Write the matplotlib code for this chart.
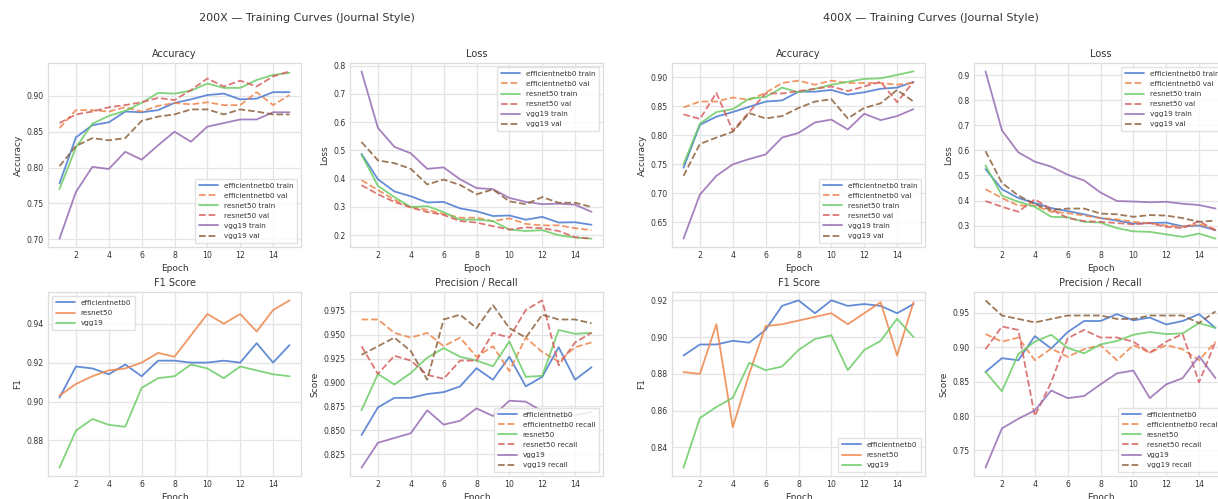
import matplotlib
matplotlib.use('Agg')
from matplotlib import pyplot as plt
from matplotlib.ticker import MultipleLocator
import seaborn as sns

sns.set_theme(style='whitegrid', palette='muted')
plt.rcParams['font.family'] = ['DejaVu Sans']

epochs = list(range(1, 16))
models = ['efficientnetb0', 'resnet50', 'vgg19']

# ---- 200X ----
acc_train_200 = {
    'efficientnetb0': [0.778, 0.842, 0.859, 0.863, 0.878, 0.877, 0.880, 0.890, 0.895, 0.901, 0.903, 0.895, 0.896, 0.905, 0.905],
    'resnet50':       [0.770, 0.828, 0.861, 0.872, 0.879, 0.890, 0.904, 0.903, 0.907, 0.917, 0.911, 0.911, 0.922, 0.929, 0.932],
    'vgg19':          [0.701, 0.766, 0.801, 0.798, 0.822, 0.811, 0.831, 0.850, 0.836, 0.857, 0.862, 0.867, 0.867, 0.877, 0.877],
}
acc_val_200 = {
    'efficientnetb0': [0.855, 0.880, 0.880, 0.878, 0.884, 0.878, 0.886, 0.890, 0.888, 0.891, 0.887, 0.887, 0.905, 0.887, 0.901],
    'resnet50':       [0.862, 0.874, 0.878, 0.884, 0.887, 0.891, 0.897, 0.894, 0.908, 0.924, 0.913, 0.921, 0.913, 0.927, 0.934],
    'vgg19':          [0.802, 0.830, 0.841, 0.838, 0.841, 0.865, 0.871, 0.874, 0.881, 0.881, 0.874, 0.881, 0.878, 0.874, 0.874],
}
loss_train_200 = {
    'efficientnetb0': [0.488, 0.398, 0.355, 0.338, 0.316, 0.318, 0.295, 0.285, 0.268, 0.270, 0.255, 0.265, 0.245, 0.246, 0.237],
    'resnet50':       [0.485, 0.375, 0.335, 0.300, 0.303, 0.282, 0.255, 0.255, 0.250, 0.220, 0.215, 0.218, 0.200, 0.192, 0.188],
    'vgg19':          [0.780, 0.580, 0.513, 0.490, 0.435, 0.440, 0.398, 0.367, 0.363, 0.332, 0.318, 0.310, 0.312, 0.308, 0.283],
}
loss_val_200 = {
    'efficientnetb0': [0.395, 0.360, 0.325, 0.300, 0.290, 0.275, 0.262, 0.262, 0.250, 0.260, 0.240, 0.235, 0.235, 0.225, 0.218],
    'resnet50':       [0.377, 0.345, 0.318, 0.298, 0.282, 0.272, 0.250, 0.245, 0.232, 0.220, 0.228, 0.225, 0.215, 0.193, 0.188],
    'vgg19':          [0.530, 0.465, 0.455, 0.435, 0.380, 0.397, 0.378, 0.345, 0.362, 0.320, 0.310, 0.335, 0.315, 0.315, 0.300],
}
f1_200 = {
    'efficientnetb0': [0.902, 0.918, 0.917, 0.914, 0.919, 0.913, 0.921, 0.921, 0.920, 0.920, 0.921, 0.920, 0.930, 0.920, 0.929],
    'resnet50':       [0.903, 0.909, 0.913, 0.916, 0.917, 0.920, 0.925, 0.923, 0.934, 0.945, 0.940, 0.945, 0.936, 0.947, 0.952],
    'vgg19':          [0.866, 0.885, 0.891, 0.888, 0.887, 0.907, 0.912, 0.913, 0.919, 0.917, 0.912, 0.918, 0.916, 0.914, 0.913],
}
prec_200 = {
    'efficientnetb0': [0.845, 0.874, 0.884, 0.884, 0.888, 0.890, 0.896, 0.915, 0.903, 0.927, 0.896, 0.906, 0.937, 0.903, 0.916],
    'resnet50':       [0.871, 0.909, 0.898, 0.910, 0.926, 0.936, 0.927, 0.923, 0.917, 0.943, 0.906, 0.907, 0.955, 0.951, 0.952],
    'vgg19':          [0.811, 0.837, 0.842, 0.847, 0.871, 0.856, 0.860, 0.873, 0.865, 0.881, 0.880, 0.870, 0.864, 0.866, 0.869],
}
rec_200 = {
    'efficientnetb0': [0.966, 0.966, 0.952, 0.947, 0.952, 0.938, 0.947, 0.927, 0.938, 0.912, 0.947, 0.932, 0.922, 0.937, 0.942],
    'resnet50':       [0.938, 0.909, 0.928, 0.923, 0.908, 0.904, 0.923, 0.923, 0.952, 0.947, 0.976, 0.986, 0.918, 0.942, 0.952],
    'vgg19':          [0.929, 0.938, 0.947, 0.933, 0.903, 0.966, 0.971, 0.957, 0.981, 0.957, 0.947, 0.971, 0.966, 0.966, 0.962],
}

# ---- 400X ----
acc_train_400 = {
    'efficientnetb0': [0.744, 0.818, 0.832, 0.840, 0.849, 0.858, 0.860, 0.875, 0.875, 0.878, 0.870, 0.874, 0.880, 0.882, 0.892],
    'resnet50':       [0.750, 0.820, 0.840, 0.845, 0.863, 0.866, 0.882, 0.874, 0.880, 0.887, 0.892, 0.897, 0.898, 0.904, 0.910],
    'vgg19':          [0.622, 0.698, 0.730, 0.750, 0.759, 0.767, 0.796, 0.804, 0.822, 0.827, 0.810, 0.837, 0.826, 0.833, 0.845],
}
acc_val_400 = {
    'efficientnetb0': [0.848, 0.858, 0.858, 0.865, 0.861, 0.873, 0.890, 0.894, 0.887, 0.894, 0.890, 0.890, 0.890, 0.887, 0.890],
    'resnet50':       [0.836, 0.828, 0.873, 0.808, 0.840, 0.872, 0.872, 0.876, 0.880, 0.884, 0.876, 0.884, 0.892, 0.857, 0.892],
    'vgg19':          [0.730, 0.785, 0.796, 0.806, 0.838, 0.829, 0.833, 0.847, 0.858, 0.862, 0.829, 0.847, 0.855, 0.878, 0.858],
}
loss_train_400 = {
    'efficientnetb0': [0.525, 0.445, 0.410, 0.390, 0.370, 0.358, 0.345, 0.330, 0.320, 0.308, 0.310, 0.312, 0.297, 0.300, 0.282],
    'resnet50':       [0.540, 0.420, 0.395, 0.375, 0.335, 0.333, 0.315, 0.312, 0.290, 0.277, 0.275, 0.265, 0.255, 0.268, 0.248],
    'vgg19':          [0.915, 0.680, 0.592, 0.555, 0.535, 0.503, 0.480, 0.432, 0.398, 0.396, 0.393, 0.395, 0.387, 0.382, 0.368],
}
loss_val_400 = {
    'efficientnetb0': [0.445, 0.410, 0.380, 0.380, 0.355, 0.350, 0.340, 0.330, 0.325, 0.315, 0.310, 0.300, 0.295, 0.305, 0.285],
    'resnet50':       [0.398, 0.375, 0.355, 0.405, 0.365, 0.330, 0.318, 0.315, 0.310, 0.305, 0.310, 0.295, 0.290, 0.318, 0.280],
    'vgg19':          [0.597, 0.470, 0.420, 0.385, 0.362, 0.368, 0.368, 0.348, 0.345, 0.335, 0.342, 0.340, 0.330, 0.315, 0.320],
}
f1_400 = {
    'efficientnetb0': [0.890, 0.896, 0.896, 0.898, 0.897, 0.904, 0.917, 0.920, 0.913, 0.920, 0.917, 0.918, 0.917, 0.913, 0.918],
    'resnet50':       [0.881, 0.880, 0.907, 0.851, 0.880, 0.906, 0.907, 0.909, 0.911, 0.913, 0.907, 0.913, 0.919, 0.890, 0.919],
    'vgg19':          [0.829, 0.856, 0.862, 0.867, 0.886, 0.882, 0.884, 0.893, 0.899, 0.901, 0.882, 0.893, 0.898, 0.910, 0.900],
}
prec_400 = {
    'efficientnetb0': [0.864, 0.884, 0.881, 0.916, 0.898, 0.922, 0.938, 0.938, 0.948, 0.939, 0.943, 0.933, 0.938, 0.948, 0.928],
    'resnet50':       [0.864, 0.836, 0.890, 0.908, 0.918, 0.899, 0.891, 0.904, 0.909, 0.918, 0.922, 0.919, 0.920, 0.935, 0.928],
    'vgg19':          [0.725, 0.782, 0.796, 0.808, 0.837, 0.826, 0.829, 0.846, 0.862, 0.866, 0.826, 0.846, 0.855, 0.887, 0.855],
}
rec_400 = {
    'efficientnetb0': [0.919, 0.908, 0.914, 0.881, 0.898, 0.886, 0.897, 0.903, 0.881, 0.903, 0.892, 0.903, 0.897, 0.881, 0.908],
    'resnet50':       [0.897, 0.930, 0.925, 0.800, 0.849, 0.913, 0.925, 0.914, 0.914, 0.908, 0.892, 0.908, 0.919, 0.849, 0.908],
    'vgg19':          [0.968, 0.946, 0.941, 0.936, 0.941, 0.946, 0.946, 0.946, 0.941, 0.941, 0.946, 0.946, 0.946, 0.935, 0.952],
}

W, H = 1218, 499
fig = plt.figure(figsize=(W / 100, H / 100), dpi=100)

TXT = '#333333'
GRID = '#e4e4e4'
LW = 1.3
ALPHA = 0.85


def make_ax(left, top, width=253, height=184):
    ax = fig.add_axes([left / W, 1 - (top + height) / H, width / W, height / H])
    ax.grid(True, color=GRID, linewidth=0.9)
    for s in ax.spines.values():
        s.set_color('#dddddd')
        s.set_linewidth(0.9)
    ax.tick_params(labelsize=5.6, colors=TXT, length=0, pad=3)
    ax.xaxis.set_major_locator(MultipleLocator(2))
    return ax


def finish(ax, title, ylabel, step, loc):
    ax.set_title(title, fontsize=7, color=TXT, pad=4)
    ax.set_xlabel('Epoch', fontsize=6.5, color=TXT, labelpad=3)
    ax.set_ylabel(ylabel, fontsize=6.5, color=TXT, labelpad=3)
    ax.yaxis.set_major_locator(MultipleLocator(step))
    leg = ax.legend(loc=loc, fontsize=5.2, handlelength=2.6, labelspacing=0.55,
                    borderpad=0.6, framealpha=0.85)
    leg.get_frame().set_edgecolor('#dddddd')
    for t in leg.get_texts():
        t.set_color(TXT)


# muted palette: each model's solid line, the paired dashed line takes the next colour
pal = sns.color_palette('muted')


def train_val(ax, train, val, suffix_a, suffix_b):
    k = 0
    for m in models:
        ax.plot(epochs, train[m], color=pal[k], lw=LW, alpha=ALPHA, label=m + suffix_a)
        ax.plot(epochs, val[m], color=pal[k + 1], lw=LW, alpha=ALPHA, ls='--', label=m + suffix_b)
        k += 2


def single(ax, data):
    for i, m in enumerate(models):
        ax.plot(epochs, data[m], color=pal[i], lw=LW, alpha=ALPHA, label=m)


groups = [
    (48, 307, '200X', acc_train_200, acc_val_200, loss_train_200, loss_val_200, f1_200, prec_200, rec_200,
     [0.05, 0.1, 0.02, 0.025], ['lower right', 'upper right', 'upper left', 'lower right']),
    (672, 931, '400X', acc_train_400, acc_val_400, loss_train_400, loss_val_400, f1_400, prec_400, rec_400,
     [0.05, 0.1, 0.02, 0.05], ['lower right', 'upper right', 'lower right', 'lower right']),
]

for x0, xc, mag, atr, ava, ltr, lva, f1, pr, rc, steps, locs in groups:
    fig.text(xc / W, 1 - 18 / H, mag + ' \u2014 Training Curves (Journal Style)',
             ha='center', va='center', fontsize=8, color=TXT)

    ax = make_ax(x0, 63)
    train_val(ax, atr, ava, ' train', ' val')
    finish(ax, 'Accuracy', 'Accuracy', steps[0], locs[0])

    ax = make_ax(x0 + 302, 63)
    train_val(ax, ltr, lva, ' train', ' val')
    finish(ax, 'Loss', 'Loss', steps[1], locs[1])

    ax = make_ax(x0, 292)
    single(ax, f1)
    finish(ax, 'F1 Score', 'F1', steps[2], locs[2])

    ax = make_ax(x0 + 302, 292)
    train_val(ax, pr, rc, '', ' recall')
    finish(ax, 'Precision / Recall', 'Score', steps[3], locs[3])

fig.savefig('out.png', dpi=100)
